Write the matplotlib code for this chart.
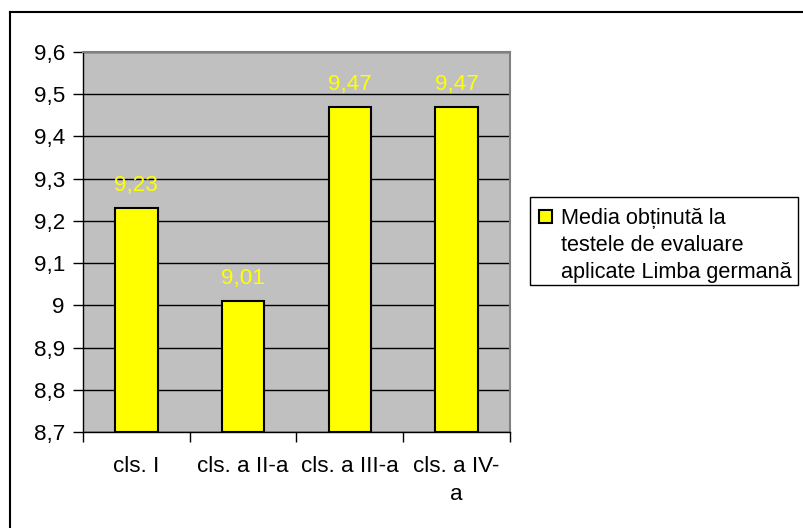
import matplotlib
matplotlib.use('Agg')
import matplotlib.pyplot as plt
from matplotlib.patches import Rectangle
from matplotlib.lines import Line2D
from matplotlib.ticker import FixedLocator, FuncFormatter

categories = ['cls. I', 'cls. a II-a', 'cls. a III-a', 'cls. a IV-\na']
values = [9.23, 9.01, 9.47, 9.47]
series_name = 'Media obținută la\ntestele de evaluare\naplicate Limba germană'
y_ticks = [8.7, 8.8, 8.9, 9.0, 9.1, 9.2, 9.3, 9.4, 9.5, 9.6]

plt.rcParams['font.family'] = ['Liberation Sans', 'DejaVu Sans']
FS = 16.2
LEG_FS = 15.6
W, H = 804, 528


def fmt(v):
    return f'{v:g}'.replace('.', ',')


fig = plt.figure(figsize=(W / 100, H / 100), dpi=100)

# outer chart border (only top and left visible)
fig.lines.append(Line2D([10.5 / W, 1], [1 - 12 / H, 1 - 12 / H], transform=fig.transFigure,
                        color='black', lw=1.5))
fig.lines.append(Line2D([10.5 / W, 10.5 / W], [0, 1 - 12 / H], transform=fig.transFigure,
                        color='black', lw=1.5))

ax = fig.add_axes([83 / W, 1 - 432 / H, (510 - 83) / W, (432 - 52) / H])
ax.set_facecolor('#C0C0C0')
x = list(range(len(categories)))
ax.bar(x, [v - y_ticks[0] for v in values], bottom=y_ticks[0], width=0.4,
       color='#FFFF00', edgecolor='black', lw=1.5, zorder=3)
for xi, v in zip(x, values):
    ax.annotate(fmt(v), (xi, v), xytext=(0, 12.2), textcoords='offset points',
                ha='center', va='baseline', color='#FFFF00', fontsize=FS, zorder=4)

ax.set_xlim(-0.5, len(categories) - 0.5)
ax.set_ylim(y_ticks[0], y_ticks[-1])
ax.set_yticks(y_ticks)
ax.yaxis.set_major_formatter(FuncFormatter(lambda v, p: fmt(round(v, 1))))
ax.set_xticks(x)
ax.set_xticklabels(categories, linespacing=1.45)
ax.xaxis.set_minor_locator(FixedLocator([i - 0.5 for i in range(len(categories) + 1)]))
ax.tick_params(axis='x', which='major', length=0, pad=17, labelsize=FS)
ax.tick_params(axis='x', which='minor', length=7, width=1, direction='out')
ax.tick_params(axis='y', length=7, width=1, direction='out', pad=6, labelsize=FS)
ax.grid(axis='y', color='black', lw=1, zorder=1)
ax.set_axisbelow(True)
for side in ['top', 'right']:
    ax.spines[side].set_color('#808080')
    ax.spines[side].set_linewidth(1.5)
for side in ['left', 'bottom']:
    ax.spines[side].set_color('black')
    ax.spines[side].set_linewidth(1)

# legend box
fig.patches.append(Rectangle((530 / W, 1 - 285 / H), (798 - 530) / W, (285 - 197) / H,
                             transform=fig.transFigure, facecolor='white',
                             edgecolor='black', lw=1))
fig.patches.append(Rectangle((539 / W, 1 - 223 / H), 13 / W, 13 / H,
                             transform=fig.transFigure, facecolor='#FFFF00',
                             edgecolor='black', lw=1.5))
for i, line in enumerate(series_name.split('\n')):
    fig.text(561 / W, 1 - (224 + 27 * i) / H, line, fontsize=LEG_FS, va='baseline', ha='left')

fig.savefig('out.png', dpi=100)
